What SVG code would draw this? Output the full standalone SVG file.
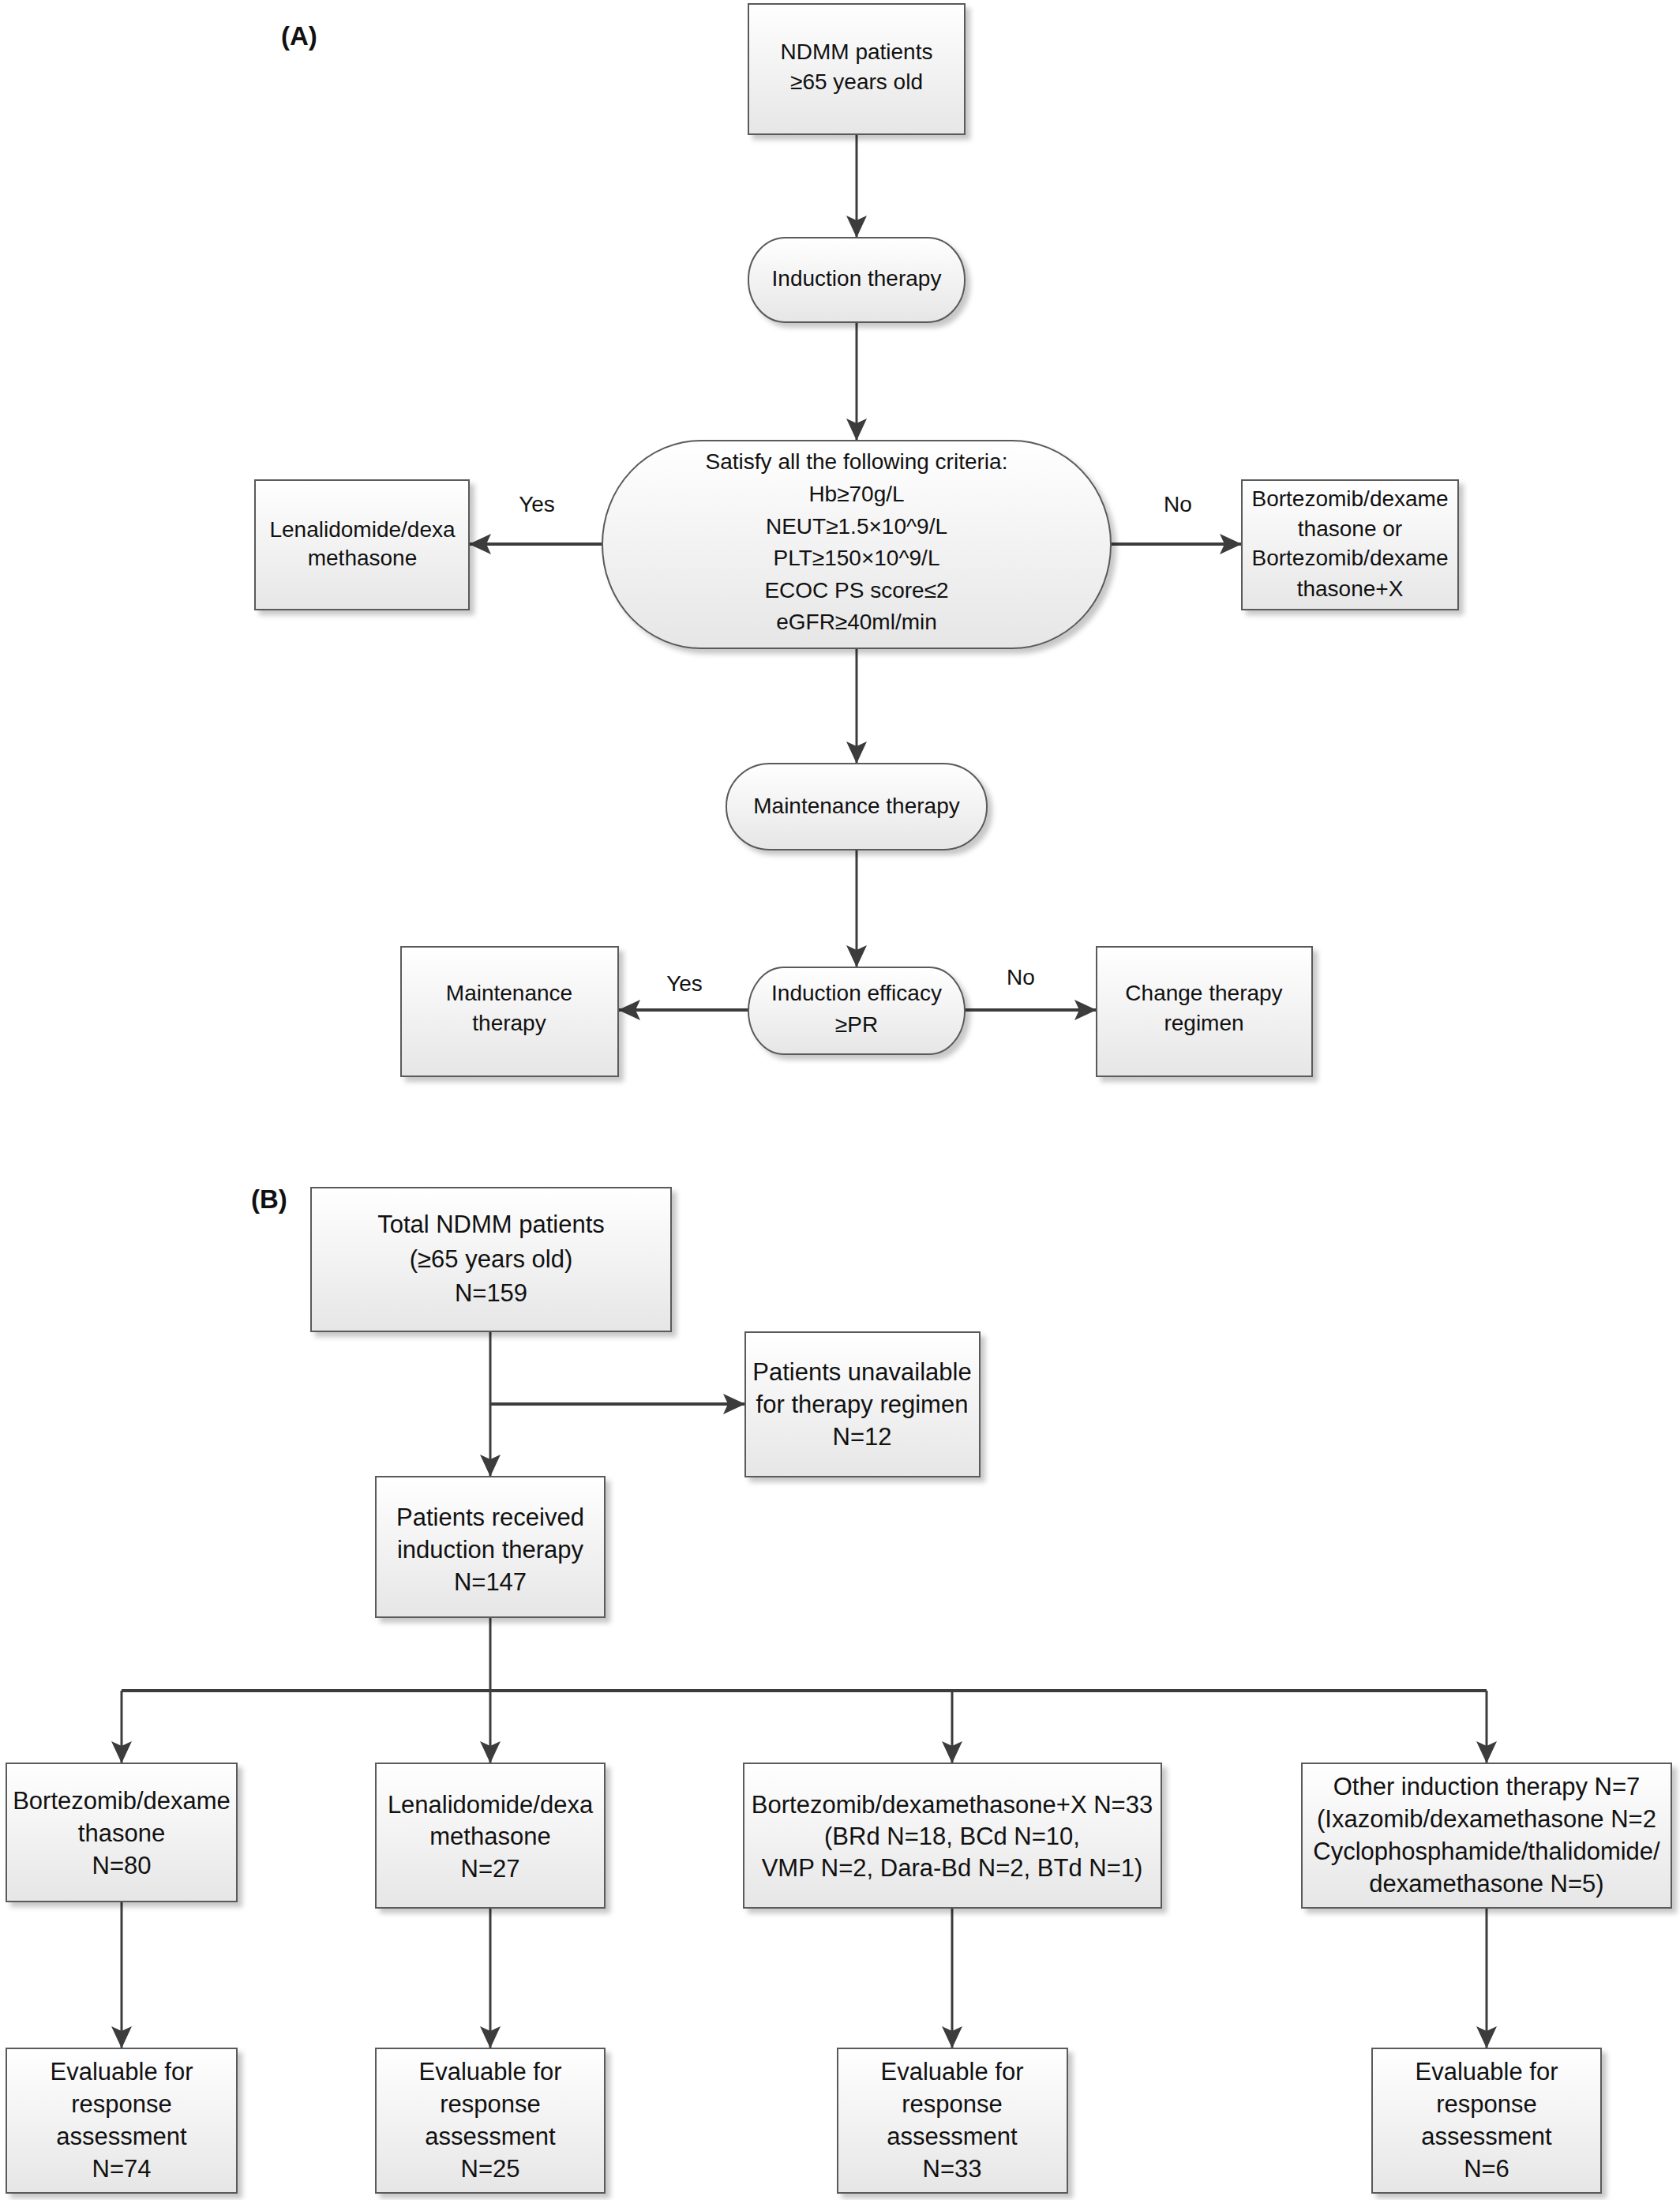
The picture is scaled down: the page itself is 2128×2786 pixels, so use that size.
<svg xmlns="http://www.w3.org/2000/svg" width="2128" height="2786" viewBox="0 0 2128 2786">
<defs>
<linearGradient id="gf" x1="0" y1="0" x2="0" y2="1">
<stop offset="0" stop-color="#ffffff"/>
<stop offset="1" stop-color="#e6e6e6"/>
</linearGradient>
<filter id="sh" x="-10%" y="-10%" width="130%" height="130%">
<feDropShadow dx="6" dy="6" stdDeviation="3" flood-color="#000" flood-opacity="0.22"/>
</filter>
<marker id="ah" markerUnits="userSpaceOnUse" markerWidth="30" markerHeight="28" refX="28" refY="13" orient="auto">
<path d="M0,0 L28,13 L0,26 L6,13 Z" fill="#3c3c3c"/>
</marker>
</defs>
<style>
.box{fill:url(#gf);stroke:#5a5a5a;stroke-width:2;filter:url(#sh)}
.t{font-family:"Liberation Sans","DejaVu Sans",sans-serif;font-size:28px;fill:#111;text-anchor:middle}
.tb{font-family:"Liberation Sans","DejaVu Sans",sans-serif;font-size:31px;fill:#111;text-anchor:middle}
.lbl{font-family:"Liberation Sans","DejaVu Sans",sans-serif;font-size:33px;font-weight:bold;fill:#111}
.c{fill:none;stroke:#3c3c3c;stroke-width:3}
.ca{fill:none;stroke:#3c3c3c;stroke-width:3;marker-end:url(#ah)}
.ch{fill:none;stroke:#3c3c3c;stroke-width:4;marker-end:url(#ah)}
</style>
<rect width="2128" height="2786" fill="#ffffff"/>

<text class="lbl" x="356" y="57">(A)</text>
<text class="lbl" x="318" y="1530">(B)</text>

<g id="connectors">
<line class="ca" x1="1085" y1="170" x2="1085" y2="301"/>
<line class="ca" x1="1085" y1="408" x2="1085" y2="558"/>
<line class="ch" x1="763" y1="689" x2="594" y2="689"/>
<line class="ch" x1="1407" y1="689" x2="1573" y2="689"/>
<line class="ca" x1="1085" y1="821" x2="1085" y2="967"/>
<line class="ca" x1="1085" y1="1076" x2="1085" y2="1225"/>
<line class="ch" x1="948" y1="1279" x2="783" y2="1279"/>
<line class="ch" x1="1222" y1="1279" x2="1389" y2="1279"/>
<line class="ca" x1="621" y1="1686" x2="621" y2="1870"/>
<line class="ch" x1="621" y1="1778" x2="944" y2="1778"/>
<line class="c" x1="621" y1="2048" x2="621" y2="2141"/>
<line class="c" x1="154" y1="2141" x2="1883" y2="2141" style="stroke-width:4"/>
<line class="ca" x1="154" y1="2141" x2="154" y2="2233"/>
<line class="ca" x1="621" y1="2141" x2="621" y2="2233"/>
<line class="ca" x1="1206" y1="2141" x2="1206" y2="2233"/>
<line class="ca" x1="1883" y1="2141" x2="1883" y2="2233"/>
<line class="ca" x1="154" y1="2408" x2="154" y2="2594"/>
<line class="ca" x1="621" y1="2416" x2="621" y2="2594"/>
<line class="ca" x1="1206" y1="2416" x2="1206" y2="2594"/>
<line class="ca" x1="1883" y1="2416" x2="1883" y2="2594"/>
<text class="t" x="680" y="648">Yes</text>
<text class="t" x="1492" y="648">No</text>
<text class="t" x="867" y="1255">Yes</text>
<text class="t" x="1293" y="1247">No</text>
</g>

<g id="ndmm">
<rect class="box" x="948" y="5" width="274" height="165"/>
<text class="t" x="1085" y="75">NDMM patients</text>
<text class="t" x="1085" y="113">≥65 years old</text>
</g>
<g id="induction">
<rect class="box" x="948" y="301" width="274" height="107" rx="47" ry="53"/>
<text class="t" x="1085" y="362">Induction therapy</text>
</g>
<g id="criteria">
<rect class="box" x="763" y="558" width="644" height="263" rx="125" ry="131"/>
<text class="t" x="1085" y="594">Satisfy all the following criteria:</text>
<text class="t" x="1085" y="635">Hb≥70g/L</text>
<text class="t" x="1085" y="676">NEUT≥1.5×10^9/L</text>
<text class="t" x="1085" y="716">PLT≥150×10^9/L</text>
<text class="t" x="1085" y="757">ECOC PS score≤2</text>
<text class="t" x="1085" y="797">eGFR≥40ml/min</text>
</g>
<g id="len-a">
<rect class="box" x="323" y="608" width="271" height="164"/>
<text class="t" x="459" y="680">Lenalidomide/dexa</text>
<text class="t" x="459" y="716">methasone</text>
</g>
<g id="bort-a">
<rect class="box" x="1573" y="608" width="274" height="164"/>
<text class="t" x="1710" y="641">Bortezomib/dexame</text>
<text class="t" x="1710" y="679">thasone or</text>
<text class="t" x="1710" y="716">Bortezomib/dexame</text>
<text class="t" x="1710" y="755">thasone+X</text>
</g>
<g id="maint-shape">
<rect class="box" x="920" y="967" width="330" height="109" rx="55" ry="54"/>
<text class="t" x="1085" y="1030">Maintenance therapy</text>
</g>
<g id="efficacy">
<rect class="box" x="948" y="1225" width="274" height="110" rx="45" ry="55"/>
<text class="t" x="1085" y="1267">Induction efficacy</text>
<text class="t" x="1085" y="1307">≥PR</text>
</g>
<g id="maint-box">
<rect class="box" x="508" y="1199" width="275" height="164"/>
<text class="t" x="645" y="1267">Maintenance</text>
<text class="t" x="645" y="1305">therapy</text>
</g>
<g id="change">
<rect class="box" x="1389" y="1199" width="273" height="164"/>
<text class="t" x="1525" y="1267">Change therapy</text>
<text class="t" x="1525" y="1305">regimen</text>
</g>

<g id="total">
<rect class="box" x="394" y="1504" width="456" height="182"/>
<text class="tb" x="622" y="1561">Total NDMM patients</text>
<text class="tb" x="622" y="1605">(≥65 years old)</text>
<text class="tb" x="622" y="1648">N=159</text>
</g>
<g id="unavailable">
<rect class="box" x="944" y="1687" width="297" height="183"/>
<text class="tb" x="1092" y="1748">Patients unavailable</text>
<text class="tb" x="1092" y="1789">for therapy regimen</text>
<text class="tb" x="1092" y="1830">N=12</text>
</g>
<g id="received">
<rect class="box" x="476" y="1870" width="290" height="178"/>
<text class="tb" x="621" y="1932">Patients received</text>
<text class="tb" x="621" y="1973">induction therapy</text>
<text class="tb" x="621" y="2014">N=147</text>
</g>
<g id="bd">
<rect class="box" x="8" y="2233" width="292" height="175"/>
<text class="tb" x="154" y="2291">Bortezomib/dexame</text>
<text class="tb" x="154" y="2332">thasone</text>
<text class="tb" x="154" y="2373">N=80</text>
</g>
<g id="rd">
<rect class="box" x="476" y="2233" width="290" height="183"/>
<text class="tb" x="621" y="2296">Lenalidomide/dexa</text>
<text class="tb" x="621" y="2336">methasone</text>
<text class="tb" x="621" y="2377">N=27</text>
</g>
<g id="bdx">
<rect class="box" x="942" y="2233" width="529" height="183"/>
<text class="tb" x="1206" y="2296">Bortezomib/dexamethasone+X N=33</text>
<text class="tb" x="1206" y="2336">(BRd N=18, BCd N=10,</text>
<text class="tb" x="1206" y="2376">VMP N=2, Dara-Bd N=2, BTd N=1)</text>
</g>
<g id="other">
<rect class="box" x="1649" y="2233" width="468" height="183"/>
<text class="tb" x="1883" y="2273">Other induction therapy N=7</text>
<text class="tb" x="1883" y="2314">(Ixazomib/dexamethasone N=2</text>
<text class="tb" x="1883" y="2355">Cyclophosphamide/thalidomide/</text>
<text class="tb" x="1883" y="2396">dexamethasone N=5)</text>
</g>
<g id="eval1">
<rect class="box" x="8" y="2594" width="292" height="183"/>
<text class="tb" x="154" y="2634">Evaluable for</text>
<text class="tb" x="154" y="2675">response</text>
<text class="tb" x="154" y="2716">assessment</text>
<text class="tb" x="154" y="2757">N=74</text>
</g>
<g id="eval2">
<rect class="box" x="476" y="2594" width="290" height="183"/>
<text class="tb" x="621" y="2634">Evaluable for</text>
<text class="tb" x="621" y="2675">response</text>
<text class="tb" x="621" y="2716">assessment</text>
<text class="tb" x="621" y="2757">N=25</text>
</g>
<g id="eval3">
<rect class="box" x="1061" y="2594" width="291" height="183"/>
<text class="tb" x="1206" y="2634">Evaluable for</text>
<text class="tb" x="1206" y="2675">response</text>
<text class="tb" x="1206" y="2716">assessment</text>
<text class="tb" x="1206" y="2757">N=33</text>
</g>
<g id="eval4">
<rect class="box" x="1738" y="2594" width="290" height="183"/>
<text class="tb" x="1883" y="2634">Evaluable for</text>
<text class="tb" x="1883" y="2675">response</text>
<text class="tb" x="1883" y="2716">assessment</text>
<text class="tb" x="1883" y="2757">N=6</text>
</g>
</svg>
